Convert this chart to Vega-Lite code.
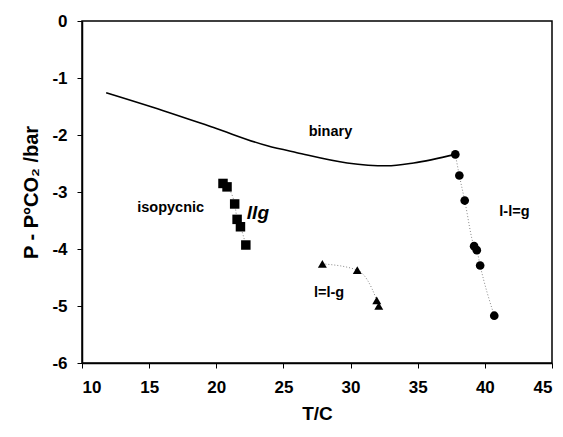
{
  "$schema": "https://vega.github.io/schema/vega-lite/v6.json",
  "autosize": "none",
  "width": 470,
  "height": 342,
  "padding": {"left": 82, "top": 21, "right": 11, "bottom": 74},
  "background": "white",
  "config": {
    "view": {"stroke": "black", "strokeWidth": 1.5},
    "font": "Liberation Sans",
    "axis": {
      "grid": false,
      "domainColor": "black",
      "domainWidth": 1.5,
      "tickColor": "black",
      "tickSize": 5,
      "labelFont": "Liberation Sans",
      "labelFontSize": 17,
      "labelFontWeight": "bold",
      "labelColor": "black",
      "titleFont": "Liberation Sans",
      "titleFontSize": 19,
      "titleFontWeight": "bold",
      "titleColor": "black"
    }
  },
  "datasets": {
    "pts": [
      {"series": "binary", "T": 11.8, "P": -1.26},
      {"series": "binary", "T": 16.0, "P": -1.57},
      {"series": "binary", "T": 19.8, "P": -1.87},
      {"series": "binary", "T": 23.8, "P": -2.19},
      {"series": "binary", "T": 26.0, "P": -2.31},
      {"series": "binary", "T": 29.75, "P": -2.49},
      {"series": "binary", "T": 32.7, "P": -2.54},
      {"series": "binary", "T": 34.7, "P": -2.49},
      {"series": "binary", "T": 37.8, "P": -2.34},
      {"series": "iso", "T": 20.5, "P": -2.85},
      {"series": "iso", "T": 20.8, "P": -2.91},
      {"series": "iso", "T": 21.37, "P": -3.21},
      {"series": "iso", "T": 21.55, "P": -3.48},
      {"series": "iso", "T": 21.8, "P": -3.61},
      {"series": "iso", "T": 22.2, "P": -3.93},
      {"series": "llg", "T": 27.9, "P": -4.26},
      {"series": "llg", "T": 30.5, "P": -4.37},
      {"series": "llg", "T": 31.95, "P": -4.9},
      {"series": "llg", "T": 32.1, "P": -5.0},
      {"series": "lleg", "T": 37.8, "P": -2.34},
      {"series": "lleg", "T": 38.1, "P": -2.71},
      {"series": "lleg", "T": 38.5, "P": -3.15},
      {"series": "lleg", "T": 39.2, "P": -3.95},
      {"series": "lleg", "T": 39.4, "P": -4.02},
      {"series": "lleg", "T": 39.65, "P": -4.29},
      {"series": "lleg", "T": 40.7, "P": -5.17}
    ],
    "labels": [
      {"label": "binary", "T": 28.5, "P": -1.95, "kind": "n"},
      {"label": "isopycnic", "T": 16.6, "P": -3.28, "kind": "n"},
      {"label": "l=l-g", "T": 28.4, "P": -4.77, "kind": "n"},
      {"label": "l-l=g", "T": 42.2, "P": -3.35, "kind": "n"},
      {"label": "llg", "T": 23.1, "P": -3.37, "kind": "i"}
    ]
  },
  "layer": [
    {
      "data": {"name": "pts"},
      "transform": [{"filter": "datum.series === 'binary'"}],
      "mark": {"type": "line", "color": "black", "strokeWidth": 1.6, "interpolate": "monotone"},
      "encoding": {
        "x": {"field": "T", "type": "quantitative", "scale": {"domain": [10, 45], "nice": false}, "axis": {"title": "T/C", "values": [10, 15, 20, 25, 30, 35, 40, 45], "labelExpr": "'' + datum.value", "titlePadding": 9, "labelPadding": 11}},
        "y": {"field": "P", "type": "quantitative", "scale": {"domain": [-6, 0], "nice": false}, "axis": {"title": "P - P°CO₂ /bar", "values": [-6, -5, -4, -3, -2, -1, 0], "labelExpr": "'' + datum.value", "titlePadding": 10, "titleFontSize": 20, "labelPadding": 10}}
      }
    },
    {
      "data": {"name": "pts"},
      "transform": [{"filter": "datum.series !== 'binary'"}],
      "mark": {"type": "line", "color": "#888888", "strokeWidth": 1, "strokeDash": [1, 2], "interpolate": "monotone"},
      "encoding": {
        "x": {"field": "T", "type": "quantitative"},
        "y": {"field": "P", "type": "quantitative"},
        "detail": {"field": "series"},
        "order": {"field": "T"}
      }
    },
    {
      "data": {"name": "pts"},
      "transform": [{"filter": "datum.series === 'iso'"}],
      "mark": {"type": "point", "shape": "square", "filled": true, "color": "black", "size": 90, "opacity": 1},
      "encoding": {
        "x": {"field": "T", "type": "quantitative"},
        "y": {"field": "P", "type": "quantitative"}
      }
    },
    {
      "data": {"name": "pts"},
      "transform": [{"filter": "datum.series === 'llg'"}],
      "mark": {"type": "point", "shape": "triangle-up", "filled": true, "color": "black", "size": 80, "opacity": 1},
      "encoding": {
        "x": {"field": "T", "type": "quantitative"},
        "y": {"field": "P", "type": "quantitative"}
      }
    },
    {
      "data": {"name": "pts"},
      "transform": [{"filter": "datum.series === 'lleg'"}],
      "mark": {"type": "point", "shape": "circle", "filled": true, "color": "black", "size": 75, "opacity": 1},
      "encoding": {
        "x": {"field": "T", "type": "quantitative"},
        "y": {"field": "P", "type": "quantitative"}
      }
    },
    {
      "data": {"name": "labels"},
      "transform": [{"filter": "datum.kind === 'n'"}],
      "mark": {"type": "text", "font": "Liberation Sans", "fontSize": 14.5, "fontWeight": "bold", "color": "black"},
      "encoding": {
        "x": {"field": "T", "type": "quantitative"},
        "y": {"field": "P", "type": "quantitative"},
        "text": {"field": "label"}
      }
    },
    {
      "data": {"name": "labels"},
      "transform": [{"filter": "datum.kind === 'i'"}],
      "mark": {"type": "text", "font": "Liberation Sans", "fontSize": 19, "fontWeight": "bold", "fontStyle": "italic", "color": "black"},
      "encoding": {
        "x": {"field": "T", "type": "quantitative"},
        "y": {"field": "P", "type": "quantitative"},
        "text": {"field": "label"}
      }
    }
  ]
}
